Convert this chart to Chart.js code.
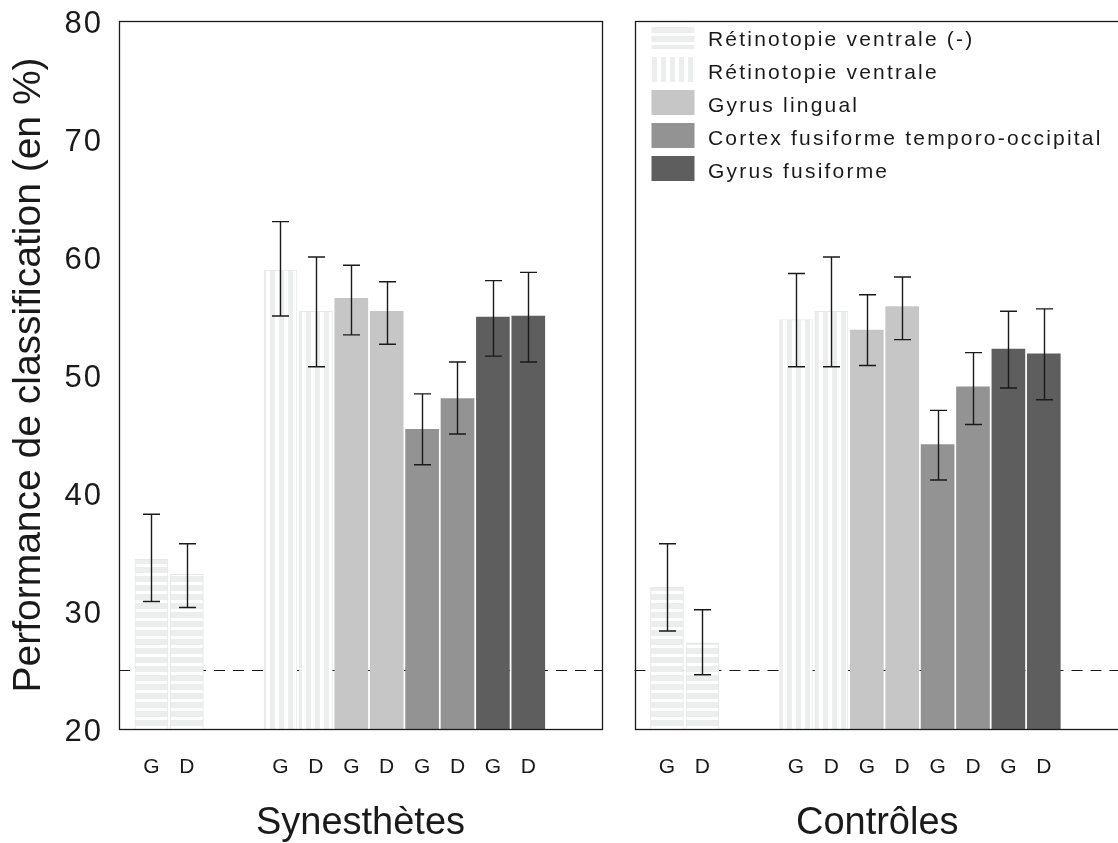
<!DOCTYPE html>
<html><head><meta charset="utf-8">
<script src="https://cdn.jsdelivr.net/npm/chart.js@4"></script>
<style>
html,body{margin:0;padding:0;background:#fff;overflow:hidden;width:1118px;height:843px;position:relative}
#cL{position:absolute;left:0;top:0}
#cR{position:absolute;left:616px;top:0}
</style></head><body>
<canvas id="cL" width="616" height="843"></canvas>
<canvas id="cR" width="504" height="843"></canvas>
<script>
// ---------- data ----------
const sides = ['G', 'D'];
const regions = ['Rétinotopie ventrale (-)', 'Rétinotopie ventrale', 'Gyrus lingual', 'Cortex fusiforme temporo-occipital', 'Gyrus fusiforme'];
const groupNames = ['Synesthètes', 'Contrôles'];
const yTicks = [20, 30, 40, 50, 60, 70, 80];
const chanceLevel = 25;
const yTitle = 'Performance de classification (en %)';

// [region][G, D]
const synMean = [[34.4, 33.1], [58.9, 55.4], [56.5, 55.4], [45.4, 48.0], [54.9, 55.0]];
const synLow  = [[30.8, 30.3], [55.0, 50.7], [53.4, 52.6], [42.4, 45.0], [51.6, 51.1]];
const synHigh = [[38.2, 35.7], [63.0, 60.0], [59.3, 57.9], [48.4, 51.1], [58.0, 58.7]];

const ctlMean = [[32.0, 27.3], [54.7, 55.4], [53.8, 55.8], [44.1, 49.0], [52.2, 51.8]];
const ctlLow  = [[28.3, 24.6], [50.7, 50.7], [50.8, 53.0], [41.1, 45.8], [48.9, 47.9]];
const ctlHigh = [[35.7, 30.1], [58.6, 60.0], [56.8, 58.3], [47.0, 51.9], [55.4, 55.6]];

// ---------- layout / style ----------
const FONT = "'Liberation Sans', Arial, Helvetica, sans-serif";
const INK = '#1a1a1a';
const GROUP_GAP = 1.644;      // extra slot gap after first region (in bar pitches)
const X_MIN = -0.918;
const PX_PER_SLOT = 35.4;
const STRIPE = '#eceeed';
const fills = [null, null, '#c6c6c6', '#929392', '#5e5e5e'];

function slotPos(r, s) { return r * 2 + s + (r > 0 ? GROUP_GAP : 0); }
const tickPositions = [];
regions.forEach((_, r) => sides.forEach((_, s) => tickPositions.push(slotPos(r, s))));

function makePatterns(ctx) {
  const h = document.createElement('canvas'); h.width = 8; h.height = 9;
  let g = h.getContext('2d');
  g.fillStyle = '#fff'; g.fillRect(0, 0, 8, 9);
  g.fillStyle = STRIPE; g.fillRect(0, 0, 8, 6);
  const v = document.createElement('canvas'); v.width = 9; v.height = 8;
  g = v.getContext('2d');
  g.fillStyle = '#fff'; g.fillRect(0, 0, 9, 8);
  g.fillStyle = STRIPE; g.fillRect(0, 0, 5, 8);
  return [ctx.createPattern(h, 'repeat'), ctx.createPattern(v, 'repeat')];
}

// draw a component's text with extra letter spacing and a small text offset
function wrapText(obj, method, spacing, dx, dy) {
  if (!obj || obj['__w_' + method]) return;
  const orig = obj[method];
  obj['__w_' + method] = true;
  obj[method] = function (...args) {
    const c = this.ctx;
    const prevSp = c.letterSpacing;
    const origFill = c.fillText;
    c.letterSpacing = spacing;
    c.fillText = function (t, x, y, m) {
      return m === undefined ? origFill.call(this, t, x + dx, y + dy) : origFill.call(this, t, x + dx, y + dy, m);
    };
    try { return orig.apply(this, args); }
    finally { c.fillText = origFill; c.letterSpacing = prevSp || '0px'; }
  };
}

const panelPlugin = {
  id: 'panel',
  beforeDatasetsDraw(chart) {
    const {ctx, chartArea: a, scales: {y}} = chart;
    const yy = Math.round(y.getPixelForValue(chanceLevel)) + 0.5;
    ctx.save();
    ctx.strokeStyle = INK; ctx.lineWidth = 1.2; ctx.setLineDash([11, 8]);
    ctx.beginPath(); ctx.moveTo(a.left, yy); ctx.lineTo(a.right, yy); ctx.stroke();
    ctx.restore();
  },
  afterDatasetsDraw(chart) {
    const {ctx, chartArea: a, scales: {y}} = chart;
    const eb = chart.options.plugins.panel;
    ctx.save();
    ctx.strokeStyle = INK; ctx.lineWidth = 1.4;
    regions.forEach((_, r) => {
      const meta = chart.getDatasetMeta(r);
      meta.data.forEach((bar, i) => {
        const x = Math.round(bar.x) + 0.5;
        const y1 = y.getPixelForValue(eb.low[r][i]);
        const y2 = y.getPixelForValue(eb.high[r][i]);
        ctx.beginPath();
        ctx.moveTo(x, y1); ctx.lineTo(x, y2);
        ctx.moveTo(x - 8.5, y1); ctx.lineTo(x + 8.5, y1);
        ctx.moveTo(x - 8.5, y2); ctx.lineTo(x + 8.5, y2);
        ctx.stroke();
      });
    });
    ctx.lineWidth = 1.3; ctx.strokeStyle = INK;
    ctx.strokeRect(Math.round(a.left) + 0.5, Math.round(a.top) + 0.5, Math.round(a.right - a.left), Math.round(a.bottom - a.top));
    ctx.restore();
  },
  afterLayout(chart) {
    const lg = chart.legend;
    if (lg && chart.options.plugins.legend.display) {
      lg.left = chart.chartArea.left + 9;
      lg.top = chart.chartArea.top - 5;
      wrapText(lg, 'draw', '2.2px', 3, 4);
    }
    if (chart.scales.y && chart.options.scales.y.display) {
      wrapText(chart.scales.y, 'drawLabels', '2px', 0, 3);
    }
  }
};

function buildChart(canvasId, mean, low, high, groupName, isLeft, areaWidthPx) {
  const canvas = document.getElementById(canvasId);
  const ctx = canvas.getContext('2d');
  const pats = makePatterns(ctx);
  const bg = fills.map((f, i) => f || pats[i]);
  const datasets = regions.map((name, r) => ({
    label: name,
    data: sides.map((_, s) => ({x: slotPos(r, s), y: mean[r][s]})),
    backgroundColor: bg[r],
    borderColor: r < 2 ? '#e6e8e7' : 'rgba(255,255,255,0)',
    borderWidth: r < 2 ? 1 : 0,
    barThickness: 33,
    grouped: false,
    base: yTicks[0]
  }));
  const yScale = {
    display: isLeft,
    min: yTicks[0], max: yTicks[yTicks.length - 1],
    grid: {display: false},
    border: {display: false},
    afterBuildTicks(scale) { scale.ticks = yTicks.map(v => ({value: v})); },
    ticks: {padding: 8, color: INK, font: {family: FONT, size: 31, lineHeight: 1}},
    title: {display: true, text: yTitle, color: INK,
            font: {family: FONT, size: 39, lineHeight: 1}, padding: {top: 10, bottom: 0}}
  };
  if (isLeft) yScale.afterFit = (scale) => { scale.width = 119; scale.paddingTop = 0; scale.paddingBottom = 0; };
  return new Chart(ctx, {
    type: 'bar',
    data: {datasets},
    options: {
      responsive: false,
      animation: false,
      devicePixelRatio: 1,
      layout: {padding: {left: isLeft ? 0 : 18.5, right: isLeft ? 14 : 0, top: 21, bottom: 0}},
      scales: {
        x: {
          type: 'linear',
          offset: false,
          min: X_MIN,
          max: X_MIN + areaWidthPx / PX_PER_SLOT,
          grid: {display: false},
          border: {display: false},
          afterBuildTicks(scale) { scale.ticks = tickPositions.map(v => ({value: v})); },
          afterFit(scale) { scale.height = 114; scale.paddingLeft = 0; scale.paddingRight = 0; },
          ticks: {
            autoSkip: false, maxRotation: 0, padding: 20,
            color: INK,
            font: {family: FONT, size: 21, lineHeight: 1},
            callback: (v, i) => sides[i % 2]
          },
          title: {display: true, text: groupName, color: INK,
                  font: {family: FONT, size: 38, lineHeight: 1}, padding: {top: 0, bottom: 0}}
        },
        y: yScale
      },
      plugins: {
        tooltip: {enabled: false},
        panel: {low, high},
        legend: {
          display: !isLeft,
          position: 'chartArea',
          align: 'start',
          labels: {
            boxWidth: 43, boxHeight: 25, padding: 8,
            color: INK,
            font: {family: FONT, size: 21},
            generateLabels(chart) {
              return chart.data.datasets.map((d, i) => ({
                text: d.label, fillStyle: d.backgroundColor, strokeStyle: 'rgba(0,0,0,0)',
                lineWidth: 0, hidden: false, datasetIndex: i, fontColor: INK
              }));
            }
          }
        }
      }
    },
    plugins: [panelPlugin]
  });
}

buildChart('cL', synMean, synLow, synHigh, groupNames[0], true, 483);
buildChart('cR', ctlMean, ctlLow, ctlHigh, groupNames[1], false, 485.5);
</script>
</body></html>
